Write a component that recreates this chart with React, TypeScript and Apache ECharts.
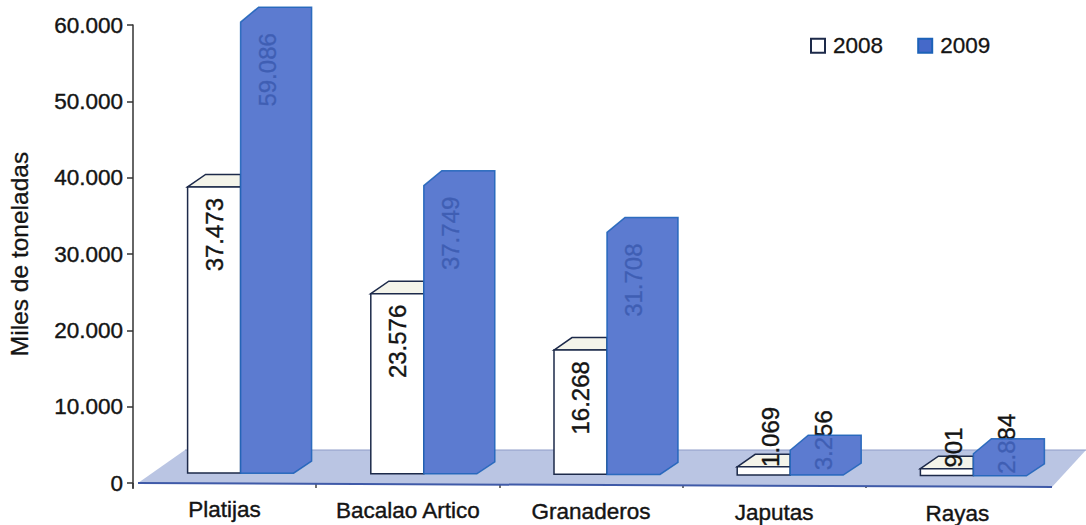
import React, { useEffect, useRef } from "react";
import * as echarts from "echarts";

const categories = ["Platijas", "Bacalao Artico", "Granaderos", "Japutas", "Rayas"];
const values2008 = [37473, 23576, 16268, 1069, 901];
const values2009 = [59086, 37749, 31708, 3256, 2884];
const yTicks = { min: 0, max: 60000, interval: 10000 };
const yTitle = "Miles de toneladas";

const FONT = '"Liberation Sans", Arial, sans-serif';
const INK = "#141414";
const BLUE = "#4569c9";
const BLUE_EDGE = "#1c62b8";
const NAVY = "#1d2a4a";
const fmt = (v: number) => String(v).replace(/\B(?=(\d{3})+$)/g, ".");

const BAR_W = 53;
const DX = 18;
const lift = (x: number) => 10 - (x - 187) * 0.0035;

function barItem(offset: number, isBlue: boolean) {
  return (params: any, api: any) => {
    const v = api.value(1);
    const top = api.coord([api.value(0), v]);
    const bottom = api.coord([api.value(0), 0]);
    const x0 = top[0] + offset;
    const x1 = x0 + BAR_W;
    const l = lift(x0);
    const yT = top[1] - l;
    const yB = bottom[1] - l;
    const h = yB - yT;
    const small = h < 80;
    const labelX = x0 + BAR_W / 2 + (small ? 7 : 0);
    const labelY = !small ? yT + 11 : isBlue ? yT - 40 : yB - 8;
    const text = {
      type: "text",
      x: labelX,
      y: labelY,
      rotation: Math.PI / 2,
      style: {
        text: fmt(v),
        font: `24px ${FONT}`,
        fill: INK,
        stroke: INK,
        lineWidth: 0.4,
        align: small && !isBlue ? "left" : "right",
        verticalAlign: "middle",
      },
    };
    if (isBlue) {
      const DY = -15;
      const outline = [
        [x0, yT],
        [x0 + DX, yT + DY],
        [x1 + DX, yT + DY],
        [x1 + DX, yB + DY + 3],
        [x1, yB],
        [x0, yB],
      ];
      return {
        type: "group",
        children: [
          { type: "polygon", shape: { points: outline }, style: { fill: "#ffffff", stroke: "none" } },
          text,
          {
            type: "polygon",
            shape: { points: outline },
            style: { fill: BLUE, stroke: BLUE_EDGE, lineWidth: 1.5, opacity: 0.88 },
          },
        ],
      };
    }
    const DY = -12.5;
    return {
      type: "group",
      children: [
        {
          type: "polygon",
          shape: { points: [[x0, yT], [x0 + DX, yT + DY], [x1, yT + DY], [x1, yT]] },
          style: { fill: "#f4f4ea", stroke: NAVY, lineWidth: 1.5 },
        },
        {
          type: "rect",
          shape: { x: x0, y: yT, width: BAR_W, height: h },
          style: { fill: "#ffffff", stroke: NAVY, lineWidth: 1.5 },
        },
        text,
      ],
    };
  };
}

function floorItem(params: any, api: any) {
  const c = params.coordSys;
  const yB = c.y + c.height;
  const pts = [
    [c.x + 5, yB],
    [c.x + 52, yB - 33],
    [c.x + c.width + 37, yB - 33],
    [c.x + c.width + 3, yB + 4],
  ];
  return {
    type: "group",
    children: [
      { type: "polygon", shape: { points: pts }, style: { fill: "#bac5e3", stroke: "none" } },
      {
        type: "line",
        shape: { x1: pts[0][0], y1: pts[0][1], x2: pts[3][0], y2: pts[3][1] },
        style: { stroke: "#3f5aa8", lineWidth: 2 },
      },
      {
        type: "line",
        shape: { x1: pts[1][0], y1: pts[1][1], x2: pts[2][0], y2: pts[2][1] },
        style: { stroke: "#8e9cc8", lineWidth: 1 },
      },
      {
        type: "line",
        shape: { x1: c.x, y1: yB, x2: c.x, y2: yB + 6 },
        style: { stroke: "#333333", lineWidth: 1.5 },
      },
    ],
  };
}

const labelRich: Record<string, any> = {};
categories.forEach((_, i) => {
  labelRich["t" + i] = {
    fontFamily: FONT,
    fontSize: 22.5,
    color: INK,
    textBorderColor: INK,
    textBorderWidth: 0.4,
    padding: [i, 0, 0, 0],
  };
});

export default function App() {
  const ref = useRef<HTMLDivElement>(null);
  useEffect(() => {
    const chart = echarts.init(ref.current!, null, { renderer: "svg" });
    const seriesOf = (name: string, vals: number[], off: number, blue: boolean) => ({
      type: "custom",
      name,
      coordinateSystem: "cartesian2d",
      clip: false,
      itemStyle: blue
        ? { color: BLUE, borderColor: BLUE_EDGE, borderWidth: 1 }
        : { color: "#ffffff", borderColor: NAVY, borderWidth: 1 },
      encode: { x: 0, y: 1 },
      data: vals.map((v, i) => [i, v]),
      renderItem: barItem(off, blue),
    });
    chart.setOption({
      animation: false,
      backgroundColor: "#ffffff",
      grid: { left: 133, top: 25, width: 916, height: 458, containLabel: false, outerBoundsMode: "none" },
      legend: {
        data: [
          { name: "2008", icon: "rect" },
          { name: "2009", icon: "rect" },
        ],
        left: 805,
        top: 29,
        itemWidth: 14,
        itemHeight: 14,
        itemGap: 34,
        selectedMode: false,
        textStyle: {
          fontFamily: FONT,
          fontSize: 22.5,
          color: INK,
          textBorderColor: INK,
          textBorderWidth: 0.3,
          padding: [0, 0, 0, 3],
        },
      },
      xAxis: {
        type: "category",
        data: categories,
        axisLine: { show: false },
        axisTick: { show: true, length: 5, lineStyle: { color: "#444", width: 1.5 }, alignWithLabel: false },
        axisLabel: {
          margin: 15,
          interval: 0,
          formatter: (name: string) => `{t${categories.indexOf(name)}|${name}}`,
          rich: labelRich,
        },
      },
      yAxis: {
        type: "value",
        ...yTicks,
        name: yTitle,
        nameLocation: "middle",
        nameGap: 101,
        nameTextStyle: {
          fontFamily: FONT,
          fontSize: 24.5,
          color: INK,
          textBorderColor: INK,
          textBorderWidth: 0.3,
        },
        axisLine: { show: true, lineStyle: { color: "#333", width: 1.5 } },
        axisTick: { show: true, length: 6, lineStyle: { color: "#333", width: 1.5 } },
        axisLabel: {
          fontFamily: FONT,
          fontSize: 22.5,
          color: INK,
          textBorderColor: INK,
          textBorderWidth: 0.4,
          margin: 10,
          formatter: (v: number) => fmt(v),
        },
        splitLine: { show: false },
      },
      series: [
        {
          type: "custom",
          name: "floor",
          coordinateSystem: "cartesian2d",
          clip: false,
          encode: { x: 0, y: 1 },
          data: [[0, 0]],
          renderItem: floorItem,
        },
        seriesOf("2008", values2008, -37, false),
        seriesOf("2009", values2009, 16, true),
      ],
    });
    return () => chart.dispose();
  }, []);
  return <div ref={ref} style={{ position: "fixed", left: 0, top: 0, width: 1086, height: 525 }} />;
}
